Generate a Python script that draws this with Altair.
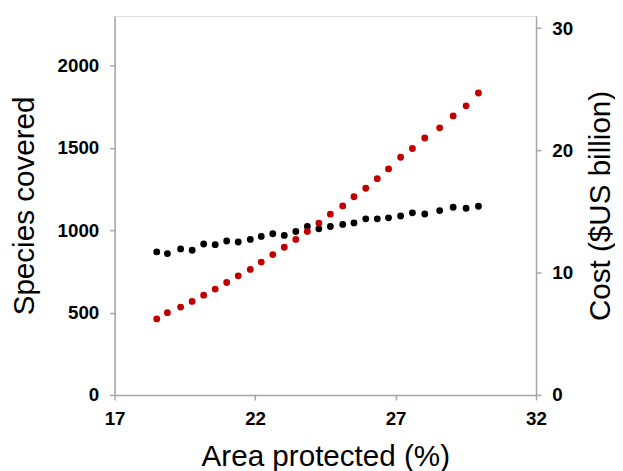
import altair as alt
import pandas as pd

# Data
area_protected = [18.50, 18.88, 19.35, 19.76, 20.17, 20.58, 20.99, 21.40, 21.83, 22.22,
                  22.63, 23.04, 23.45, 23.86, 24.27, 24.68, 25.12, 25.52, 25.94, 26.35,
                  26.75, 27.18, 27.60, 28.04, 28.57, 29.05, 29.51, 29.95]
species_covered = [868, 858, 886, 878, 916, 912, 934, 928, 944, 962,
                   978, 968, 992, 1022, 1008, 1022, 1035, 1044, 1069, 1069,
                   1075, 1086, 1105, 1098, 1119, 1139, 1133, 1145]
cost_billion = [6.22, 6.73, 7.19, 7.65, 8.16, 8.66, 9.20, 9.74, 10.27, 10.87,
                11.48, 12.08, 12.72, 13.37, 14.06, 14.79, 15.46, 16.21, 16.91, 17.69,
                18.49, 19.44, 20.16, 21.02, 21.85, 22.82, 23.65, 24.70]

x_ticks = [17, 22, 27, 32]
left_ticks = [0, 500, 1000, 1500, 2000]
right_ticks = [0, 10, 20, 30]

df = pd.DataFrame({"area": area_protected, "species": species_covered, "cost": cost_billion})

W, H = 427, 384
FONT = "Liberation Sans"
GRAY = "#a6a6a6"

common_axis = dict(
    grid=False, domainColor=GRAY, domainWidth=1.5, tickColor=GRAY, tickWidth=1.5,
    tickSize=5, labelFont=FONT, labelFontSize=19, labelFontWeight="bold", labelColor="black",
    titleFont=FONT, titleFontSize=30, titleFontWeight="normal", titleColor="black",
    format="d",
)

x_enc = alt.X("area:Q", scale=alt.Scale(domain=[17, 32], nice=False, zero=False),
              axis=alt.Axis(values=x_ticks, title="Area protected (%)", labelPadding=10,
                            titleX=W / 2, titleY=62, titleAlign="center", titleBaseline="middle",
                            labelFlush=False, **common_axis))

black = alt.Chart(df).mark_circle(size=48, color="black", opacity=1).encode(
    x=x_enc,
    y=alt.Y("species:Q", scale=alt.Scale(domain=[0, 2300], nice=False),
            axis=alt.Axis(values=left_ticks, title="Species covered", orient="left",
                          labelPadding=11, titleX=-91, titleY=H / 2, titleAngle=270,
                          titleAlign="center", titleBaseline="middle", labelFlush=False,
                          **common_axis)),
)

red = alt.Chart(df).mark_circle(size=48, color="#c00000", opacity=1).encode(
    x=alt.X("area:Q", scale=alt.Scale(domain=[17, 32], nice=False, zero=False)),
    y=alt.Y("cost:Q", scale=alt.Scale(domain=[0, 31], nice=False),
            axis=alt.Axis(values=right_ticks, title="Cost ($US billion)", orient="right",
                          labelPadding=11, titleX=65, titleY=H / 2, titleAngle=270,
                          titleAlign="center", titleBaseline="middle", labelFlush=False,
                          **common_axis)),
)

chart = alt.layer(black, red).resolve_scale(y="independent").properties(
    width=W, height=H,
    autosize=alt.AutoSizeParams(type="none"),
    padding={"left": 108, "top": 5, "right": 80, "bottom": 74},
).configure_view(stroke="black", strokeWidth=1.5).configure(background="white")

chart.save("out.html", embed_options={"renderer": "svg", "actions": False})
